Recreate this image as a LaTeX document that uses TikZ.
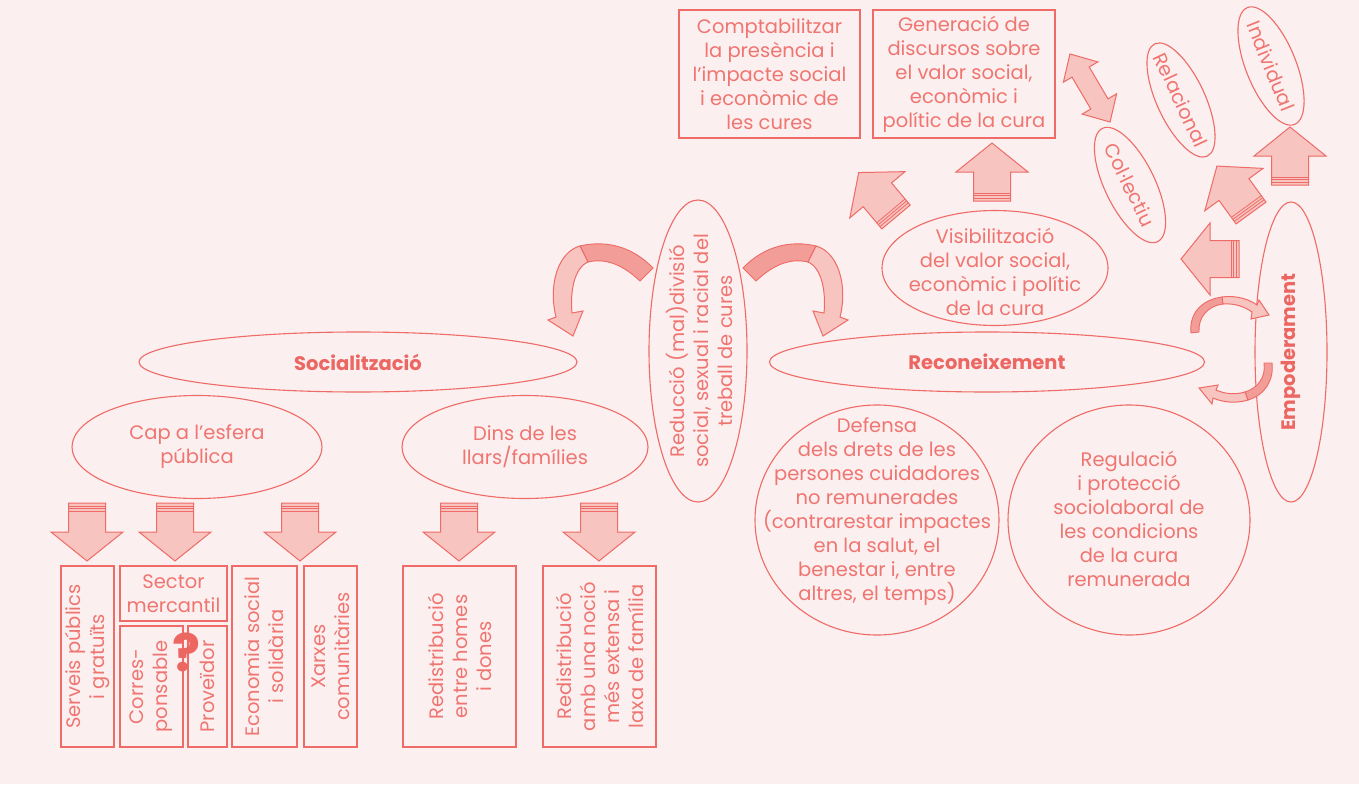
\documentclass[tikz,border=0pt]{standalone}
\usepackage{fontspec}
\setmainfont{Poppins}
\usetikzlibrary{shapes.geometric}
\definecolor{bg}{HTML}{FCEFEF}
\definecolor{ln}{HTML}{EE6B67}
\definecolor{tx}{HTML}{EF7571}
\definecolor{bt}{HTML}{EC6662}
\definecolor{lf}{HTML}{F7C4C0}
\definecolor{df}{HTML}{F29D98}
\tikzset{
  box/.style={draw=ln, line width=1.3pt, rectangle, inner sep=0pt},
  ell/.style={draw=ln, line width=1.1pt, ellipse, inner sep=0pt},
  txt/.style={text=tx, align=center, font=\fontsize{19.5}{24}\selectfont, inner sep=0pt},
  btxt/.style={text=bt, align=center, font=\fontsize{19.5}{24}\selectfont\bfseries, inner sep=0pt},
  blk/.style={draw=ln, fill=lf, line width=1pt, line join=miter},
  dblk/.style={draw=ln, fill=df, line width=0.9pt},
  stripe/.style={draw=ln, line width=0.8pt},
}
\newcommand\blockarrow[3]{%
  \begin{scope}[shift={(#1,#2)}, rotate=#3]
    \draw[blk] (0,-18.5) -- (29,-18.5) -- (29,-36) -- (58,0) -- (29,36) -- (29,18.5) -- (0,18.5) -- cycle;
    \draw[stripe] (3,-18.5) -- (3,18.5) (5.5,-18.5) -- (5.5,18.5) (8,-18.5) -- (8,18.5);
  \end{scope}}
\newcommand\bigcurvearrow{%
  \draw[dblk] (653,268) .. controls (632,246) and (605,240) .. (580,246)
     -- (588,262) .. controls (605,258) and (622,264) .. (640,281) -- cycle;
  \draw[blk] (580,246) .. controls (558,252) and (548,285) .. (556,317)
     -- (548,320) -- (573,336) -- (583,311) -- (572,313)
     .. controls (570,292) and (574,268) .. (588,262) -- cycle;}
\begin{document}
\begin{tikzpicture}[x=1pt,y=-1pt]
\fill[bg] (0,0) rectangle (1359,784);
\useasboundingbox (0,0) rectangle (1359,784);

% top boxes
\node[box, minimum width=181pt, minimum height=128pt] (comp) at (769.5,74) {};
\node[txt] at (comp) {Comptabilitzar\\la presència i\\l’impacte social\\i econòmic de\\les cures};
\node[box, minimum width=182pt, minimum height=128pt] (gen) at (964,74) {};
\node[txt] at (gen) {Generació de\\discursos sobre\\el valor social,\\econòmic i\\polític de la cura};

% double arrow
\begin{scope}[shift={(1090,88)}, rotate=-59.5]
  \draw[blk] (-39.5,0) -- (-18.5,-20) -- (-18.5,-10) -- (18.5,-10) -- (18.5,-20) -- (39.5,0)
    -- (18.5,20) -- (18.5,10) -- (-18.5,10) -- (-18.5,20) -- cycle;
\end{scope}

% rotated ellipses
\node[ell, rotate=-64, minimum width=126pt, minimum height=50pt] (colle) at (1130,185) {};
\node[txt, rotate=-64] at (colle) {Col·lectiu};
\node[ell, rotate=-65, minimum width=124pt, minimum height=48pt] (rela) at (1181,100) {};
\node[txt, rotate=-65] at (rela) {Relacional};
\node[ell, rotate=-68, minimum width=126pt, minimum height=50pt] (indi) at (1271,66) {};
\node[txt, rotate=-68] at (indi) {Individual};

% visibilitzacio
\node[ell, minimum width=226pt, minimum height=115pt] (visi) at (995,268) {};
\node[txt] at (995,271.5) {Visibilització\\del valor social,\\econòmic i polític\\de la cura};

% block arrows (tail x, tail y, angle)
\blockarrow{896}{217}{130}
\blockarrow{992}{201}{90}
\blockarrow{1290}{185}{90}
\blockarrow{1251}{213}{126}
\blockarrow{1239}{259}{180}

% empoderament
\node[ell, minimum width=72pt, minimum height=300pt] (empo) at (1291,352) {};
\node[btxt, rotate=90] at (empo) {Empoderament};

% small curved arrows near empoderament
\draw[dblk] (1191,333) .. controls (1189,315) and (1200,300) .. (1222,297)
   -- (1223,304) .. controls (1207,306) and (1198,318) .. (1199,332) -- cycle;
\draw[blk] (1222,297) .. controls (1238,295) and (1250,300) .. (1257,305)
   -- (1259,300) -- (1269,315) -- (1251,319) -- (1252,312)
   .. controls (1245,307) and (1235,303) .. (1223,304) -- cycle;
\draw[dblk] (1272,363) .. controls (1274,380) and (1265,395) .. (1248,400)
   -- (1245,392) .. controls (1258,388) and (1266,377) .. (1264,363) -- cycle;
\draw[blk] (1248,400) .. controls (1235,404) and (1222,402) .. (1213,398)
   -- (1212,404) -- (1199,388) -- (1218,385) -- (1216,390)
   .. controls (1225,394) and (1235,395) .. (1245,392) -- cycle;

% reduccio
\node[ell, minimum width=98pt, minimum height=302pt] (redu) at (698,351) {};
\node[txt, rotate=90] at (699,351) {Reducció (mal)divisió\\social, sexual i racial del\\treball de cures};

% big curved arrows
\bigcurvearrow
\begin{scope}[shift={(1396,0)}, xscale=-1]
  \bigcurvearrow
\end{scope}

% socialitzacio / reconeixement
\node[ell, minimum width=438pt, minimum height=60pt] (soci) at (358,362) {};
\node[btxt] at (soci) {Socialització};
\node[ell, minimum width=435pt, minimum height=60pt] (reco) at (987,362) {};
\node[btxt] at (reco) {Reconeixement};

\node[ell, minimum width=250pt, minimum height=103pt] (cap) at (197,447) {};
\node[txt] at (cap) {Cap a l’esfera\\pública};
\node[ell, minimum width=246pt, minimum height=103pt] (dins) at (525,447) {};
\node[txt] at (dins) {Dins de les\\llars/famílies};

\node[ell, minimum width=244pt, minimum height=230pt] (defe) at (877,520) {};
\node[txt] at (877,512) {Defensa\\dels drets de les\\persones cuidadores\\no remunerades\\(contrarestar impactes\\en la salut, el\\benestar i, entre\\altres, el temps)};
\node[ell, minimum width=242pt, minimum height=230pt] (regu) at (1129,520) {};
\node[txt] at (1129,519) {Regulació\\i protecció\\sociolaboral de\\les condicions\\de la cura\\remunerada};

% down arrows
\blockarrow{87}{503}{-90}
\blockarrow{175}{503}{-90}
\blockarrow{300}{503}{-90}
\blockarrow{459}{503}{-90}
\blockarrow{599}{503}{-90}

% bottom boxes
\node[box, minimum width=53pt, minimum height=181pt] (serv) at (87.5,656.5) {};
\node[txt, rotate=90] at (serv) {Serveis públics\\i gratuïts};
\node[box, minimum width=107pt, minimum height=55pt] (sect) at (173.5,593.5) {};
\node[txt] at (sect) {Sector\\mercantil};
\node[box, minimum width=63pt, minimum height=121pt] (corr) at (151.5,686.5) {};
\node[txt, rotate=90] at (corr) {Corres-\\ponsable};
\node[box, minimum width=39pt, minimum height=121pt] (prov) at (207.5,686.5) {};
\node[txt, rotate=90] at (prov) {Proveïdor};
\node[text=bt, font=\fontsize{52}{52}\selectfont\bfseries, inner sep=0pt] (q) at (186,652) {?};
\node[box, minimum width=65pt, minimum height=181pt] (econ) at (264.5,656.5) {};
\node[txt, rotate=90] at (econ) {Economia social\\i solidària};
\node[box, minimum width=53pt, minimum height=181pt] (xarx) at (330.5,656.5) {};
\node[txt, rotate=90] at (xarx) {Xarxes\\comunitàries};
\node[box, minimum width=113pt, minimum height=181pt] (red1) at (459.5,656.5) {};
\node[txt, rotate=90] at (red1) {Redistribució\\entre homes\\i dones};
\node[box, minimum width=113pt, minimum height=181pt] (red2) at (599.5,656.5) {};
\node[txt, rotate=90] at (red2) {Redistribució\\amb una noció\\més extensa i\\laxa de família};
\end{tikzpicture}
\end{document}
